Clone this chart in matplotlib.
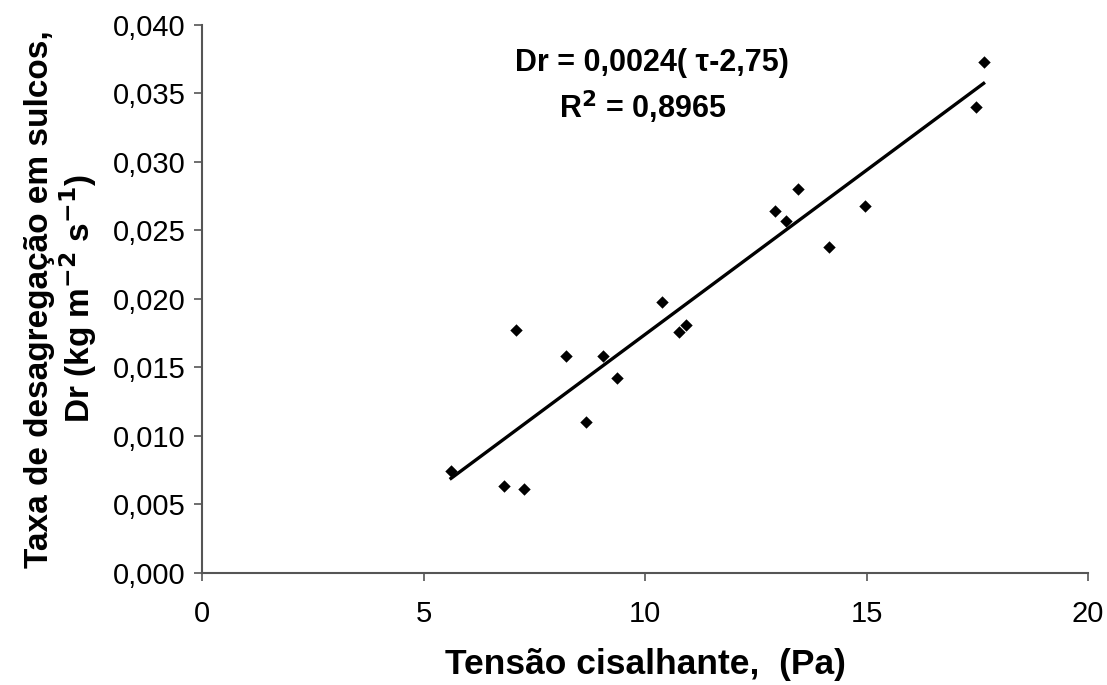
import matplotlib
matplotlib.use("Agg")
import matplotlib.pyplot as plt
import numpy as np

plt.rcParams['font.family'] = ['Liberation Sans', 'DejaVu Sans']

# Data (shear stress in Pa, detachment rate in kg m-2 s-1)
tau = [5.62, 6.81, 7.27, 7.09, 8.21, 9.04, 9.37, 8.67, 10.39, 10.76, 10.93,
       12.93, 13.18, 13.46, 14.16, 14.96, 17.47, 17.64]
dr = [0.00745, 0.0063, 0.0061, 0.0177, 0.0158, 0.0158, 0.0142, 0.0110, 0.0198,
      0.0176, 0.0181, 0.0264, 0.0257, 0.0280, 0.0238, 0.0268, 0.0340, 0.0373]

slope = 0.0024
tau_c = 2.75

xticks = [0, 5, 10, 15, 20]
xticklabels = ["0", "5", "10", "15", "20"]
yticks = [0.0, 0.005, 0.010, 0.015, 0.020, 0.025, 0.030, 0.035, 0.040]
yticklabels = ["0,000", "0,005", "0,010", "0,015", "0,020", "0,025", "0,030", "0,035", "0,040"]

fig = plt.figure(figsize=(11.07, 6.85), dpi=100)
ax = fig.add_axes([0.1825, 0.164, 0.8005, 0.7995])

ax.scatter(tau, dr, marker='D', s=40, color='black', zorder=3, linewidths=0)
xl = np.array([min(tau), max(tau)])
ax.plot(xl, slope * (xl - tau_c), color='black', linewidth=2.4)

ax.set_xlim(0, 20)
ax.set_ylim(0, 0.040)
ax.set_xticks(xticks)
ax.set_xticklabels(xticklabels)
ax.set_yticks(yticks)
ax.set_yticklabels(yticklabels)

for s in ['top', 'right']:
    ax.spines[s].set_visible(False)
for s in ['left', 'bottom']:
    ax.spines[s].set_color('#555555')
    ax.spines[s].set_linewidth(1.5)
ax.tick_params(axis='both', direction='out', length=6, width=1.2, color='#555555',
               labelsize=21, pad=6)
ax.tick_params(axis='x', pad=14)

ax.set_xlabel("Tensão cisalhante,  (Pa)", fontsize=25.5, fontweight='bold', labelpad=14)
ax.set_ylabel("Taxa de desagregação em sulcos,\nDr (kg m$^{\\mathbf{-2}}$ s$^{\\mathbf{-1}}$)",
              fontsize=24, fontweight='bold', labelpad=10, linespacing=1.05)

ax.text(0.508, 0.93, "Dr = 0,0024( τ-2,75)", transform=ax.transAxes, ha='center', va='center',
        fontsize=22, fontweight='bold')
ax.text(0.497, 0.85, "R$^{\\mathbf{2}}$ = 0,8965", transform=ax.transAxes, ha='center', va='center',
        fontsize=22, fontweight='bold')

fig.savefig("out.png", dpi=100)
